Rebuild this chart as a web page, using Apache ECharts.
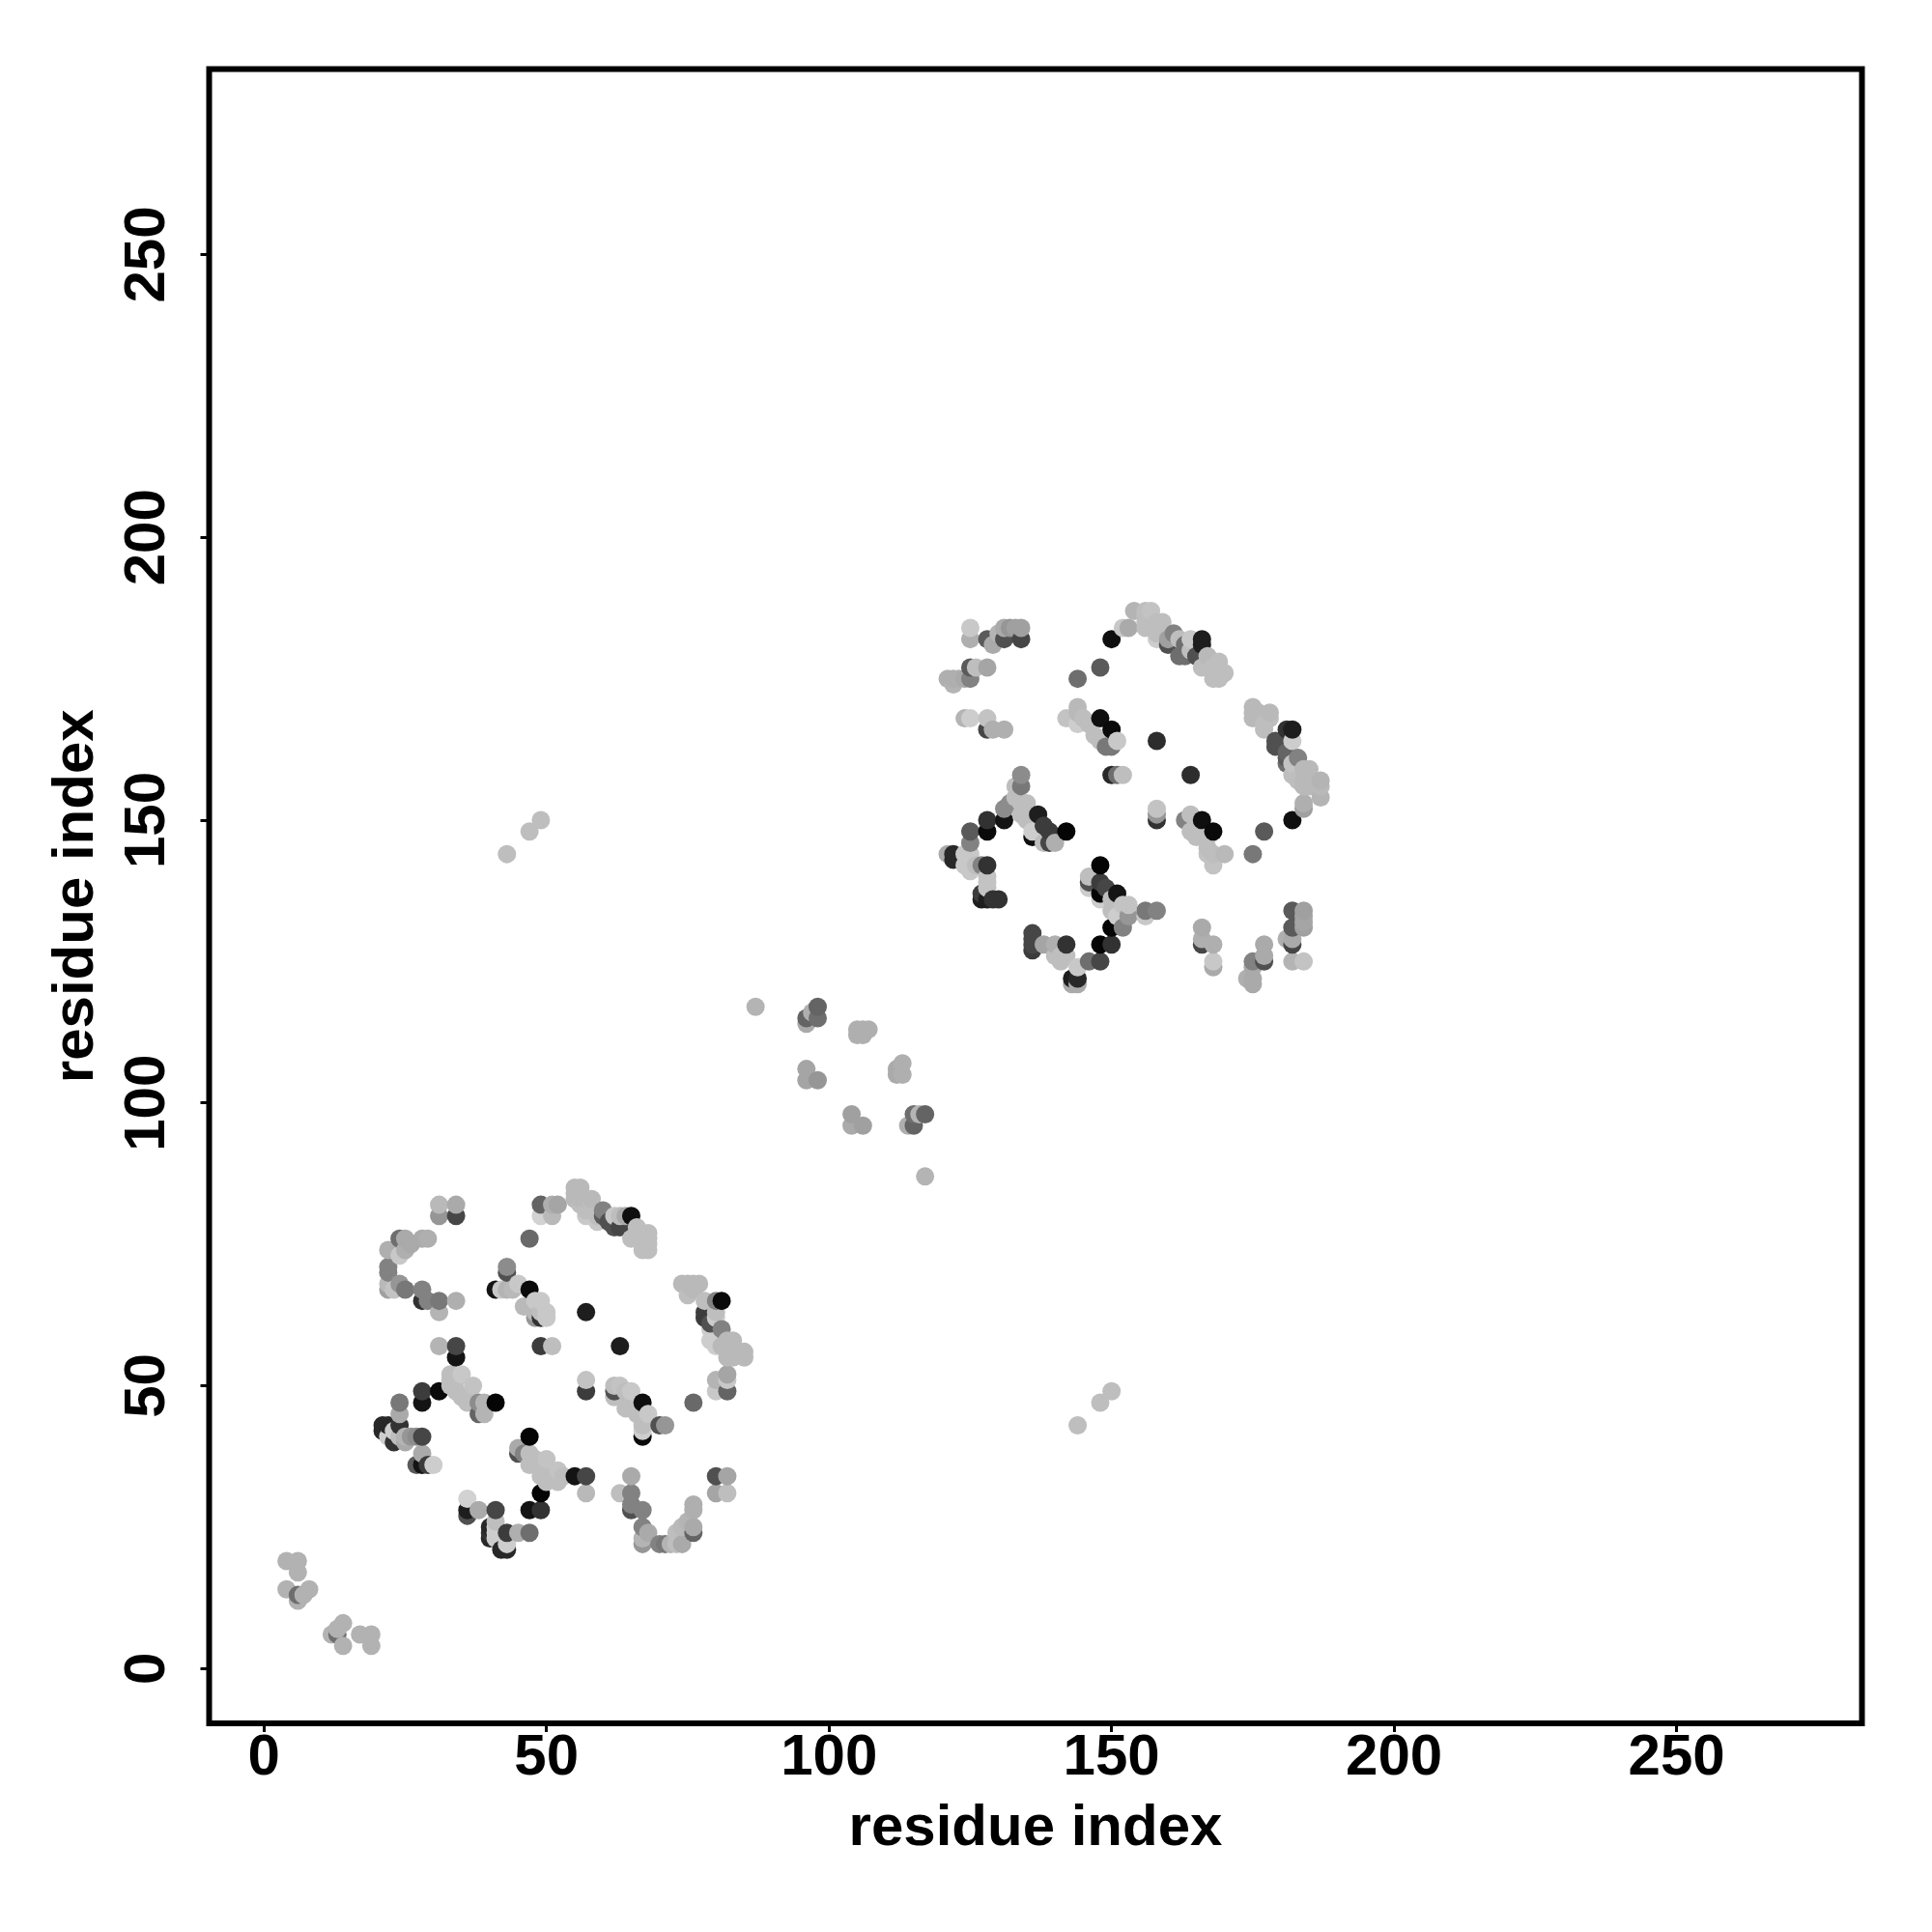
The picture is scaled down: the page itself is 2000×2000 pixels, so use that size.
<!DOCTYPE html>
<html><head><meta charset="utf-8">
<style>html,body{margin:0;padding:0;background:#fff}#c{width:2000px;height:2000px}</style>
<script src="https://cdn.jsdelivr.net/npm/echarts@6/dist/echarts.min.js"></script>
</head><body><div id="c"></div>
<script>
const tickValues = [0, 50, 100, 150, 200, 250];
const axisTitle = "residue index";
// each contact: [residue x, residue y, grey level]
const nTerm = [[4,19,178],[6,19,178],[6,17,178],[4,14,178],[6,13,110],[6,12,178],[7,13,178],[8,14,178],[12,6,178],[13,6,110],[13,7,178],[14,8,178],[14,4,178],[17,6,178],[19,6,178],[19,4,178]];
const domainALeft = [[31,80,150],[34,80,70],[31,82,185],[34,82,170],[24,76,110],[25,76,170],[28,76,170],[29,76,175],[22,74,175],[25,74,175],[26,75,170],[24,73,200],[22,71,130],[22,70,130],[22,68,185],[22,67,160],[24,68,150],[23,67,195],[25,67,120],[28,67,130],[28,65,50],[29,65,130],[31,65,120],[34,65,175],[31,63,180]];
const domainATop = [[49,82,100],[51,82,175],[52,82,165],[49,80,210],[51,80,185],[47,76,105],[55,85,185],[56,85,185],[55,84,185],[56,84,185],[55,83,185],[56,83,185],[57,83,185],[58,83,185],[56,82,190],[58,82,190],[57,81,190],[57,80,200],[59,80,190],[59,79,200],[60,81,130],[60,80,90],[61,79,80],[62,78,80],[62,80,200],[63,80,190],[64,80,170],[63,78,70],[65,80,15],[66,78,190],[65,76,190],[66,77,190],[68,77,190],[67,76,190],[68,76,190],[67,75,190],[68,75,190],[67,74,190],[68,74,190]];
const domainAInner = [[43,71,140],[43,70,80],[41,67,20],[42,67,200],[43,67,180],[44,67,185],[45,68,200],[46,64,185],[47,67,10],[48,65,200],[49,65,200],[48,63,185],[48,62,150],[49,63,190],[49,62,50],[50,63,200],[50,62,200],[57,63,30],[63,57,30],[49,57,60],[51,57,190]];
const domainAMidLeft = [[31,57,180],[34,57,70],[34,55,20],[33,52,190],[33,51,190],[33,50,190],[35,52,200],[34,51,190],[37,50,195],[34,49,190],[35,48,190],[36,48,190],[36,47,190],[38,47,140],[39,47,180],[41,47,5],[38,45,100],[39,45,180],[28,49,60],[31,49,10],[28,47,20],[24,47,120],[24,45,170],[24,43,50],[21,43,40],[21,42,40],[22,43,40],[22,41,205],[23,40,50],[23,42,205],[24,41,190],[25,41,180],[26,41,150],[27,41,140],[28,41,70],[25,40,170],[28,38,170],[27,36,90],[28,36,20],[29,36,60],[30,36,205]];
const domainABottom = [[47,41,5],[45,39,170],[45,38,80],[46,38,130],[47,38,190],[48,37,190],[50,37,195],[47,36,190],[49,36,190],[52,35,195],[49,34,190],[51,34,190],[53,34,190],[52,33,190],[50,33,190],[55,34,20],[57,34,70],[57,31,185],[49,31,5],[47,28,20],[49,28,50],[36,30,210],[36,28,30],[36,27,80],[38,28,170],[41,28,70],[41,26,190],[40,25,40],[40,24,50],[40,23,40],[41,25,205],[41,24,205],[41,23,205],[43,24,60],[45,24,175],[47,24,110],[43,22,205],[43,21,40],[42,21,40]];
const domainARight = [[65,34,170],[63,31,190],[65,31,130],[65,29,130],[65,28,80],[67,28,130],[67,25,130],[68,24,170],[67,23,180],[67,22,150],[70,22,130],[71,22,120],[72,22,180],[73,22,190],[74,22,170],[73,24,190],[74,25,185],[76,25,170],[76,24,100],[76,29,175],[76,28,175],[75,26,180],[80,34,80],[82,34,165],[80,31,165],[82,31,190],[74,68,185],[75,68,185],[76,68,185],[77,68,185],[76,67,185],[75,66,190],[78,65,190],[80,65,130],[81,65,10],[78,63,60],[78,62,60],[80,63,190],[79,61,80],[81,60,130],[80,62,205],[79,60,205],[79,58,205],[80,57,205],[82,58,185],[83,58,185],[82,56,185],[82,55,185],[84,56,185],[85,56,185],[85,55,185],[83,55,185],[81,57,185],[80,51,180],[80,49,200],[82,52,165],[82,51,200],[82,49,100],[76,47,105],[57,51,195],[57,49,60],[62,50,190],[62,49,80],[63,50,195],[65,49,200],[64,49,190],[62,48,190],[64,46,190],[65,47,190],[67,47,15],[66,45,190],[68,45,200],[67,43,190],[67,42,205],[67,41,10],[70,43,80],[71,43,150]];
const linker = [[43,144,190],[47,148,190],[49,150,190],[144,43,190],[148,47,190],[150,49,190],[87,117,180],[96,114,170],[96,115,100],[98,115,110],[98,117,100],[97,116,175],[96,106,165],[96,104,165],[98,104,150],[105,113,175],[107,113,175],[106,113,175],[105,112,175],[106,112,175],[113,107,175],[112,106,170],[112,105,170],[113,105,175],[104,98,160],[104,96,170],[106,96,160],[114,96,175],[115,96,100],[115,98,110],[116,98,180],[117,98,100],[117,87,180]];
const domainBTopLeft = [[125,184,200],[125,182,175],[128,182,90],[129,181,170],[131,182,80],[134,182,70],[130,183,180],[131,184,170],[132,184,150],[133,184,160],[134,184,160],[125,177,90],[126,177,190],[128,177,165],[125,175,130],[121,175,175],[122,175,175],[122,174,180],[123,175,175],[124,175,170],[124,168,180],[125,168,205],[128,168,195],[128,166,70],[129,166,175],[131,166,175]];
const domainBTop = [[150,182,15],[148,177,90],[144,175,110],[152,184,200],[153,184,170],[154,187,180],[156,187,190],[157,187,195],[156,186,190],[156,185,190],[156,184,190],[158,185,190],[159,185,190],[158,183,190],[158,182,205],[160,181,80],[161,183,130],[160,182,160],[162,182,190],[162,179,110],[163,181,110],[164,182,200],[163,179,110],[164,180,190],[166,182,30],[166,181,30],[165,179,80],[167,179,185],[166,177,190],[169,178,190],[168,177,190],[170,176,190],[168,175,190],[169,175,190]];
const domainBInner = [[144,170,185],[144,169,185],[142,168,195],[144,167,205],[145,168,190],[146,167,190],[147,165,190],[148,168,15],[150,166,10],[148,164,190],[149,163,120],[150,163,120],[151,164,200],[158,164,45],[164,158,45],[150,158,40],[151,158,110],[152,158,190],[158,152,195],[158,151,150],[158,150,50],[163,150,130],[164,151,190],[166,150,15],[168,148,10],[164,148,190],[165,147,190],[167,147,190],[167,145,190],[170,144,185],[168,144,190],[167,144,195],[168,142,195],[175,144,120],[177,148,90],[182,150,15],[184,153,175],[184,152,160],[187,154,180]];
const domainBRight = [[175,170,185],[175,169,185],[175,168,185],[176,169,185],[178,169,185],[178,168,190],[177,167,190],[177,166,190],[181,166,50],[182,166,30],[179,164,80],[179,163,80],[182,164,205],[181,162,100],[181,161,90],[181,160,110],[183,161,130],[182,160,195],[182,158,190],[184,159,185],[185,159,185],[184,157,185],[185,156,185],[187,157,180],[187,156,185],[184,156,185],[183,157,190]];
const domainBMidLeft = [[134,158,140],[133,156,190],[134,156,120],[133,154,190],[132,153,140],[135,153,190],[134,153,190],[134,151,190],[135,150,190],[131,152,140],[131,150,20],[128,150,50],[128,148,10],[125,148,90],[125,146,130],[137,151,30],[138,149,60],[139,148,60],[142,148,5],[136,148,205],[136,147,15],[138,146,190],[139,146,70],[140,146,175],[121,144,170],[122,144,40],[122,143,40],[124,144,200],[124,142,200],[125,144,200],[125,141,200],[126,142,190],[127,142,130],[128,142,50],[128,140,195],[128,139,195],[128,138,195],[127,137,60],[127,136,30],[128,136,30],[129,136,50],[130,136,50]];
const domainBLower = [[148,142,5],[146,140,190],[146,139,80],[146,138,205],[148,139,60],[149,138,70],[151,137,20],[148,137,5],[148,136,205],[150,136,190],[150,134,190],[152,135,195],[153,135,195],[151,133,205],[153,133,150],[156,134,120],[158,134,130],[156,133,200],[152,131,130],[150,131,5],[148,128,5],[150,128,50],[136,130,70],[136,129,70],[136,128,70],[136,127,60],[138,128,165],[140,128,175],[141,126,190],[142,128,50],[140,126,190],[142,126,190],[141,125,190],[144,124,200],[146,125,110],[148,125,70],[143,122,30],[144,122,40],[143,121,170],[144,121,170]];
const domainBBottom = [[166,131,170],[166,129,175],[166,128,70],[168,128,175],[168,125,200],[168,124,170],[177,128,170],[177,126,170],[177,125,80],[175,125,130],[175,124,170],[174,122,175],[175,122,170],[175,121,170],[182,134,90],[184,134,160],[184,133,165],[184,131,160],[182,131,90],[184,132,165],[181,129,175],[182,129,170],[182,128,70],[182,125,180],[184,125,195]];

const contacts = [].concat(nTerm, domainALeft, domainATop, domainAInner, domainAMidLeft, domainABottom, domainARight, linker, domainBTopLeft, domainBTop, domainBInner, domainBRight, domainBMidLeft, domainBLower, domainBBottom)
  .sort((a, b) => a[0] - b[0] || a[1] - b[1]);

const axisBase = {
  type: 'value', min: -9.7, max: 282.8,
  name: axisTitle, nameLocation: 'middle',
  nameTextStyle: {fontFamily: 'Liberation Sans', fontWeight: 'bold', fontSize: 60, color: '#000'},
  axisLine: {show: false, onZero: false}, splitLine: {show: false},
  axisTick: {show: true, inside: false, length: 9, lineStyle: {color: '#000', width: 3}, customValues: tickValues},
  axisLabel: {show: true, fontFamily: 'Liberation Sans', fontWeight: 'bold', fontSize: 60, color: '#000', customValues: tickValues, hideOverlap: false, showMinLabel: true, showMaxLabel: true}
};
const chart = echarts.init(document.getElementById('c'), null, {renderer: 'canvas'});
chart.setOption({
  animation: false,
  backgroundColor: '#fff',
  grid: {left: 216.5, top: 71.5, width: 1711, height: 1712.5, show: true, borderColor: '#000', borderWidth: 6, backgroundColor: 'transparent'},
  xAxis: Object.assign({}, axisBase, {nameGap: 79, axisLabel: Object.assign({}, axisBase.axisLabel, {margin: 6})}),
  yAxis: Object.assign({}, axisBase, {nameGap: 107, axisLabel: Object.assign({}, axisBase.axisLabel, {rotate: 90, margin: 33})}),
  series: [{
    type: 'scatter', symbol: 'circle', symbolSize: 19, clip: false, silent: true,
    data: contacts,
    encode: {x: 0, y: 1},
    itemStyle: {opacity: 1, color: p => { const g = p.value[2]; return 'rgb(' + g + ',' + g + ',' + g + ')'; }}
  }]
});
</script></body></html>
